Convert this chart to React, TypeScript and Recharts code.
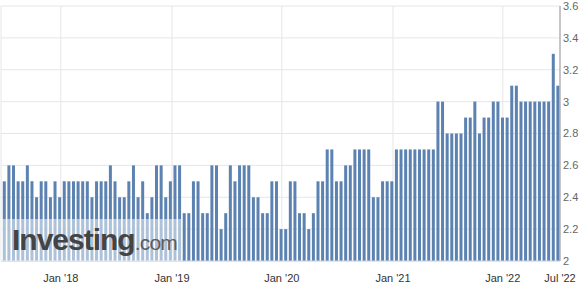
import { BarChart, Bar, XAxis, YAxis, CartesianGrid } from "recharts";

// one value per release, oldest first (mid 2017 -> Jul 2022)
const values = [
  2.5, 2.6, 2.6, 2.5, 2.5, 2.6, 2.5, 2.4, 2.5, 2.5,
  2.4, 2.5, 2.4, 2.5, 2.5, 2.5, 2.5, 2.5, 2.5, 2.4,
  2.5, 2.5, 2.5, 2.6, 2.5, 2.4, 2.4, 2.5, 2.6, 2.4,
  2.5, 2.3, 2.4, 2.6, 2.6, 2.4, 2.5, 2.6, 2.6, 2.3,
  2.3, 2.5, 2.5, 2.3, 2.3, 2.6, 2.6, 2.2, 2.3, 2.6,
  2.5, 2.6, 2.6, 2.6, 2.4, 2.4, 2.3, 2.3, 2.5, 2.5,
  2.2, 2.2, 2.5, 2.5, 2.3, 2.3, 2.2, 2.3, 2.5, 2.5,
  2.7, 2.7, 2.5, 2.5, 2.6, 2.6, 2.7, 2.7, 2.7, 2.7,
  2.4, 2.4, 2.5, 2.5, 2.5, 2.7, 2.7, 2.7, 2.7, 2.7,
  2.7, 2.7, 2.7, 2.7, 3.0, 3.0, 2.8, 2.8, 2.8, 2.8,
  2.9, 2.9, 3.0, 2.8, 2.9, 2.9, 3.0, 3.0, 2.9, 2.9,
  3.1, 3.1, 3.0, 3.0, 3.0, 3.0, 3.0, 3.0, 3.0, 3.3,
  3.1,
];

// where each date label falls, in release-index units
const xTickSpots = [12.3, 36.4, 60.2, 84.3, 108.1, 120.5];
const xTickLabels = ["Jan '18", "Jan '19", "Jan '20", "Jan '21", "Jan '22", "Jul '22"];

const yTicks = [2, 2.2, 2.4, 2.6, 2.8, 3, 3.2, 3.4, 3.6];

const font = "'Liberation Sans', Arial, sans-serif";

export default function App() {
  const data = values.map((v, i) => ({ i, v }));

  return (
    <div style={{ position: "relative", width: 580, height: 288, fontFamily: font }}>
      <style>{"body{margin:0}"}</style>
      <BarChart
        width={580}
        height={288}
        data={data}
        margin={{ top: 6, right: 0, left: 1, bottom: 0 }}
      >
        <CartesianGrid stroke="#e6e6e6" />
        <XAxis
          type="number"
          dataKey="i"
          domain={[-0.67, 120.5]}
          allowDataOverflow
          ticks={xTickSpots}
          tickFormatter={(t) => xTickLabels[xTickSpots.indexOf(t)] ?? ""}
          interval={0}
          height={27}
          axisLine={{ stroke: "#ccd6eb" }}
          tickLine={false}
          tickSize={0}
          tickMargin={13}
          tick={{ fontSize: 11, fill: "#333", fontFamily: font }}
        />
        <YAxis
          orientation="right"
          domain={[2, 3.6]}
          ticks={yTicks}
          interval={0}
          width={20}
          axisLine={{ stroke: "#999" }}
          tickLine={false}
          tickSize={0}
          tickMargin={3}
          tickFormatter={(v) => String(v)}
          tick={{ fontSize: 11, fill: "#666", fontFamily: font, textAnchor: "start" }}
        />
        <YAxis
          yAxisId="edge"
          orientation="left"
          width={0}
          tick={false}
          tickLine={false}
          axisLine={{ stroke: "#aaa" }}
        />
        <Bar dataKey="v" fill="#5b82b1" barSize={3} isAnimationActive={false} />
      </BarChart>
      <div
        style={{
          position: "absolute",
          left: 1,
          top: 219,
          width: 181,
          height: 42,
          background: "rgba(255,255,255,0.5)",
        }}
      >
        <div
          style={{
            position: "absolute",
            left: 11,
            top: 6,
            display: "flex",
            alignItems: "baseline",
            lineHeight: 1,
            whiteSpace: "nowrap",
          }}
        >
          <span style={{ fontSize: 30, fontWeight: 700, letterSpacing: -1, color: "#444" }}>
            Investing
          </span>
          <span style={{ fontSize: 21, letterSpacing: -0.8, color: "#5c5c5c" }}>.com</span>
        </div>
      </div>
    </div>
  );
}
